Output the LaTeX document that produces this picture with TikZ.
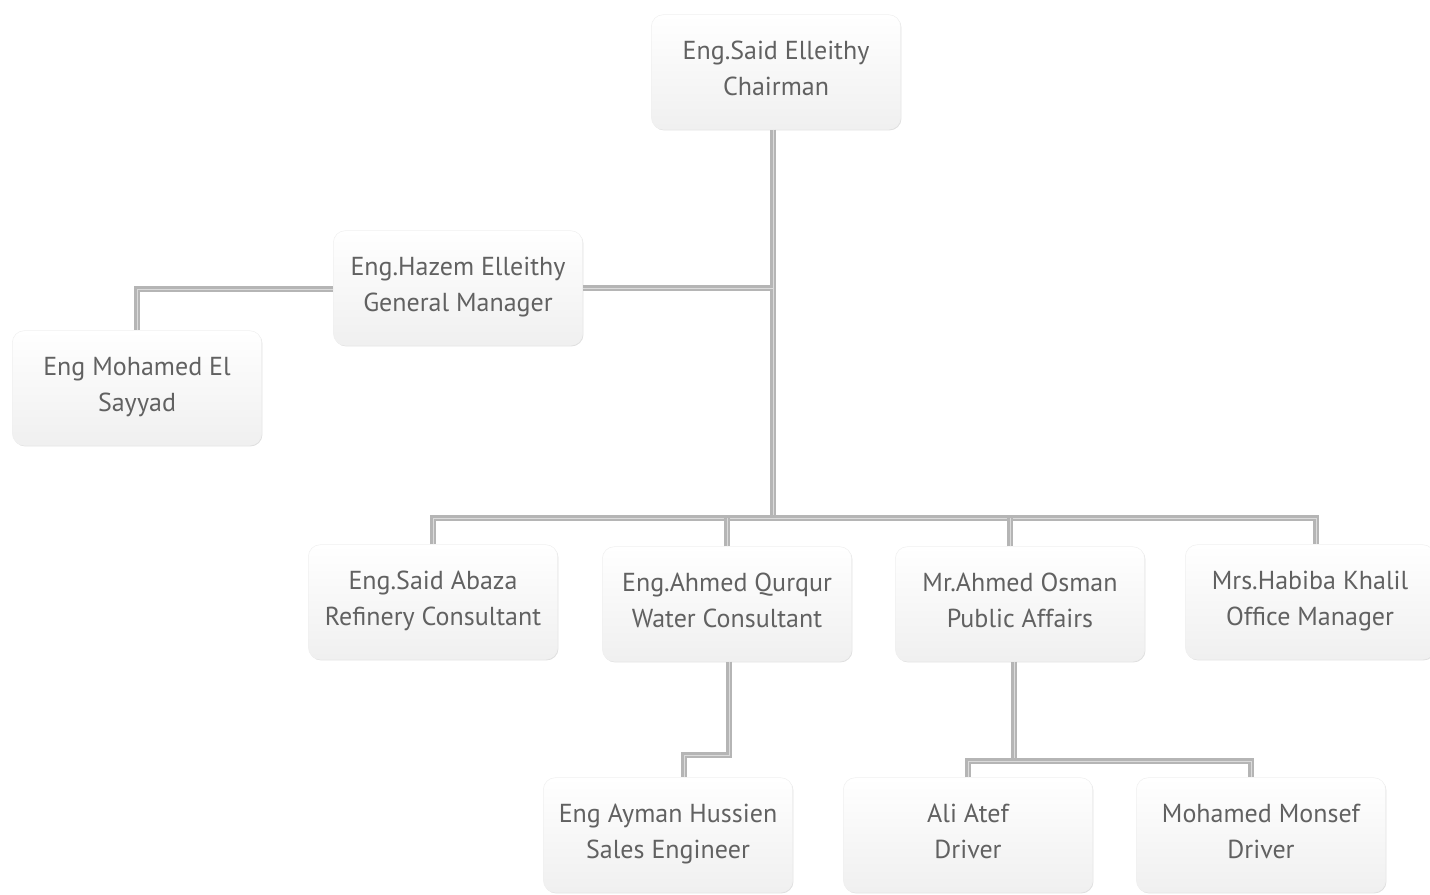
\documentclass[tikz,border=0pt]{standalone}
\usepackage{fontspec}
\setmainfont{PT Sans}
\usetikzlibrary{shadows}

\tikzset{
  person/.style={rounded corners=9pt, draw=gray!12, top color=white, bottom color=gray!12,
    drop shadow={shadow xshift=0.6pt, shadow yshift=-0.8pt, opacity=0.25},
    minimum width=187pt, minimum height=86pt, align=center, text=black!62,
    text depth=6pt, font=\fontsize{19.5}{27}\selectfont},
  link/.style={draw=gray!58, line width=2.2pt, double=gray!28, double distance=0.6pt}
}

\begin{document}
\begin{tikzpicture}[x=0.75pt,y=-0.75pt]
\useasboundingbox (0,0) rectangle (1430,894);

\coordinate (gmy) at (0,289);
\coordinate (busy) at (0,518);
\coordinate (qy) at (0,755);
\coordinate (oy) at (0,761);

\node[person] (ch) at (776,72) {Eng.Said Elleithy\\Chairman};
\node[person] (gm) at (458,288) {Eng.Hazem Elleithy\\General Manager};
\node[person] (sayyad) at (137,388) {Eng Mohamed El\\Sayyad};
\node[person] (abaza) at (433,602) {Eng.Said Abaza\\Refinery Consultant};
\node[person] (qurqur) at (727,604) {Eng.Ahmed Qurqur\\Water Consultant};
\node[person] (osman) at (1020,604) {Mr.Ahmed Osman\\Public Affairs};
\node[person] (habiba) at (1310,602) {Mrs.Habiba Khalil\\Office Manager};
\node[person] (ayman) at (668,835) {Eng Ayman Hussien\\Sales Engineer};
\node[person] (atef) at (968,835) {Ali Atef\\Driver};
\node[person] (monsef) at (1261,835) {Mohamed Monsef\\Driver};

\coordinate (chs) at ([xshift=-2.2pt]ch.south);
\coordinate (habn) at ([xshift=4.5pt]habiba.north);
\coordinate (osn) at ([xshift=-7.5pt]osman.north);
\coordinate (oss) at ([xshift=-4.5pt]osman.south);
\coordinate (qus) at ([xshift=1.5pt]qurqur.south);
\coordinate (aymn) at ([xshift=12pt]ayman.north);
\coordinate (monn) at ([xshift=-7.5pt]monsef.north);

\draw[link] (chs) -- (chs |- busy);
\draw[link] (gm.east) -- (chs |- gm.east);
\draw[link] (gm.west |- gmy) -| (sayyad.north);
\draw[link] (abaza.north) |- (busy -| habn) -- (habn);
\draw[link] (qurqur.north) -- (qurqur.north |- busy);
\draw[link] (osn) -- (osn |- busy);
\draw[link] (qus) |- (aymn |- qy) -- (aymn);
\draw[link] (oss) -- (oss |- oy);
\draw[link] (atef.north) |- (oy -| monn) -- (monn);
\end{tikzpicture}
\end{document}
